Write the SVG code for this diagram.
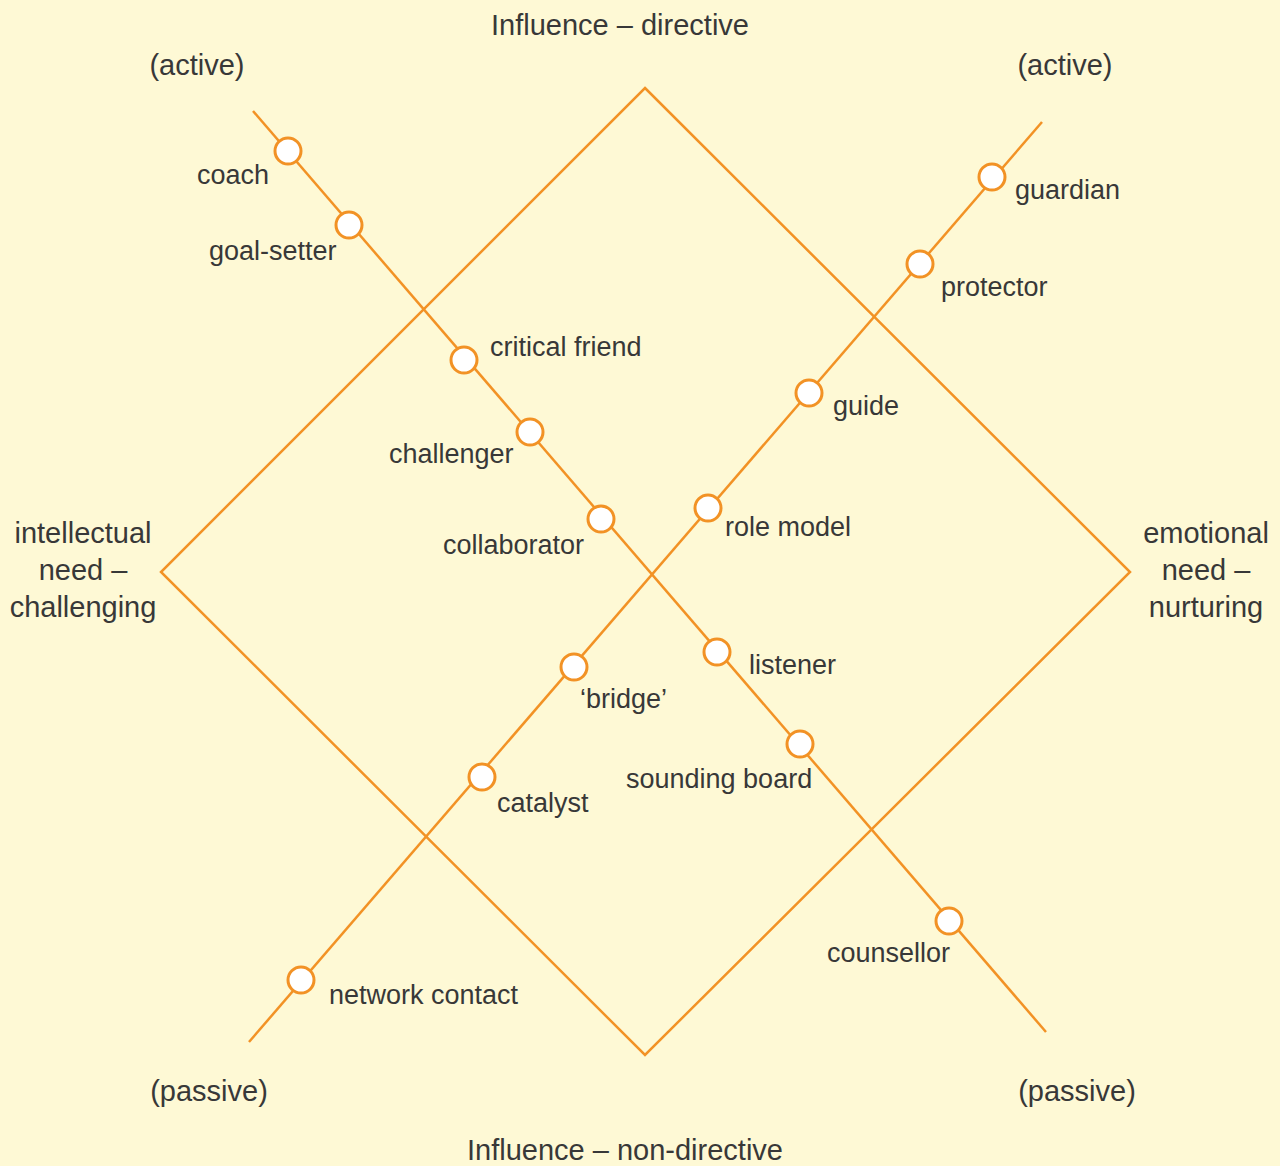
<svg xmlns="http://www.w3.org/2000/svg" width="1280" height="1166" viewBox="0 0 1280 1166">
<style>
.ln{fill:none;stroke:#F29225;stroke-width:2.5;stroke-linecap:butt}
.nd{fill:#FFFFFF;stroke:#F29225;stroke-width:3}
text{font-family:"Liberation Sans",Arial,sans-serif;font-size:27px;fill:#383838}
.ax{font-size:29px;text-anchor:middle}
</style>
<rect width="1280" height="1166" fill="#FEF9D5"/>
<g id="connectors">
<polygon class="ln" points="645,88 1130,572 645,1055 161,572"/>
<line class="ln" x1="253" y1="111" x2="1046" y2="1032"/>
<line class="ln" x1="1042" y1="122" x2="249" y2="1042"/>
</g>
<g id="axis-labels">
<text class="ax" x="620" y="35">Influence – directive</text>
<text class="ax" x="625" y="1160">Influence – non-directive</text>
<text class="ax" x="197" y="75">(active)</text>
<text class="ax" x="1065" y="75">(active)</text>
<text class="ax" x="209" y="1101">(passive)</text>
<text class="ax" x="1077" y="1101">(passive)</text>
<text class="ax" x="83" y="543">intellectual</text>
<text class="ax" x="83" y="580">need –</text>
<text class="ax" x="83" y="617">challenging</text>
<text class="ax" x="1206" y="543">emotional</text>
<text class="ax" x="1206" y="580">need –</text>
<text class="ax" x="1206" y="617">nurturing</text>
</g>
<g id="coach"><circle class="nd" cx="288" cy="151" r="13"/><text x="197" y="184">coach</text></g>
<g id="goal-setter"><circle class="nd" cx="349" cy="225" r="13"/><text x="209" y="260">goal-setter</text></g>
<g id="critical-friend"><circle class="nd" cx="464" cy="360" r="13"/><text x="490" y="356">critical friend</text></g>
<g id="challenger"><circle class="nd" cx="530" cy="432" r="13"/><text x="389" y="463">challenger</text></g>
<g id="collaborator"><circle class="nd" cx="601" cy="519" r="13"/><text x="443" y="554">collaborator</text></g>
<g id="listener"><circle class="nd" cx="717" cy="652" r="13"/><text x="749" y="674">listener</text></g>
<g id="sounding-board"><circle class="nd" cx="800" cy="744" r="13"/><text x="626" y="788">sounding board</text></g>
<g id="counsellor"><circle class="nd" cx="949" cy="921" r="13"/><text x="827" y="962">counsellor</text></g>
<g id="guardian"><circle class="nd" cx="992" cy="177" r="13"/><text x="1015" y="199">guardian</text></g>
<g id="protector"><circle class="nd" cx="920" cy="264" r="13"/><text x="941" y="296">protector</text></g>
<g id="guide"><circle class="nd" cx="809" cy="393" r="13"/><text x="833" y="415">guide</text></g>
<g id="role-model"><circle class="nd" cx="708" cy="508" r="13"/><text x="725" y="536">role model</text></g>
<g id="bridge"><circle class="nd" cx="574" cy="667" r="13"/><text x="580" y="708">‘bridge’</text></g>
<g id="catalyst"><circle class="nd" cx="482" cy="777" r="13"/><text x="497" y="812">catalyst</text></g>
<g id="network-contact"><circle class="nd" cx="301" cy="980" r="13"/><text x="329" y="1004">network contact</text></g>
</svg>
